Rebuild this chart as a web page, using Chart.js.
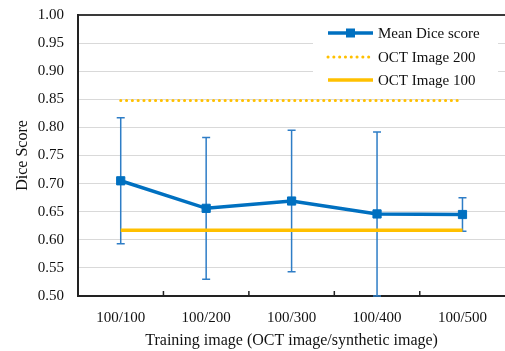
<!DOCTYPE html>
<html>
<head>
<meta charset="utf-8">
<script src="https://cdn.jsdelivr.net/npm/chart.js@4.4.1/dist/chart.umd.min.js"></script>
<style>
  html, body { margin: 0; padding: 0; background: #fff; overflow: hidden; }
  #wrap { width: 505px; height: 351px; overflow: hidden; }
</style>
</head>
<body>
<div id="wrap"><canvas id="chart" width="512" height="351"></canvas></div>
<script>
// Datos
const categories = ['100/100', '100/200', '100/300', '100/400', '100/500'];
const meanDice = [0.705, 0.656, 0.669, 0.646, 0.645];
const diceSd = [0.112, 0.126, 0.126, 0.146, 0.030];
const oct200 = [0.848, 0.848, 0.848, 0.848, 0.848];
const oct100 = [0.617, 0.617, 0.617, 0.617, 0.617];

const FONT = "'Liberation Serif', 'Times New Roman', serif";
const BLUE = '#0070C0';
const ERR_BLUE = '#2E7DC6';
const YELLOW = '#FFC000';

// Barras de error (media ± desviación)
const errorBars = {
    id: 'errorBars',
    beforeDatasetsDraw(chart) {
        const { ctx, scales: { x, y } } = chart;
        ctx.save();
        ctx.strokeStyle = ERR_BLUE;
        ctx.lineWidth = 1.5;
        meanDice.forEach((m, i) => {
            const px = x.getPixelForValue(i);
            const top = y.getPixelForValue(m + diceSd[i]);
            const bot = y.getPixelForValue(m - diceSd[i]);
            ctx.beginPath();
            ctx.moveTo(px, top); ctx.lineTo(px, bot);
            ctx.moveTo(px - 4, top); ctx.lineTo(px + 4, top);
            ctx.moveTo(px - 4, bot); ctx.lineTo(px + 4, bot);
            ctx.stroke();
        });
        ctx.restore();
    },
    afterDatasetsDraw(chart) {
        // marcas del eje x hacia dentro
        const { ctx, scales: { x, y } } = chart;
        ctx.save();
        ctx.strokeStyle = '#222';
        ctx.lineWidth = 1.5;
        for (let i = 1; i < categories.length; i++) {
            const bx = (x.getPixelForValue(i - 1) + x.getPixelForValue(i)) / 2;
            ctx.beginPath();
            ctx.moveTo(bx, y.bottom);
            ctx.lineTo(bx, y.bottom - 5);
            ctx.stroke();
        }
        ctx.restore();
    }
};

// Leyenda dentro del área del gráfico
const innerLegend = {
    id: 'innerLegend',
    afterDraw(chart) {
        const ctx = chart.ctx;
        const ds = chart.data.datasets;
        ctx.save();
        ctx.fillStyle = '#fff';
        ctx.fillRect(313, 18, 185, 77);
        ctx.font = '15px ' + FONT;
        ctx.textBaseline = 'middle';
        ctx.textAlign = 'left';
        const rows = [33, 57, 80];
        ds.forEach((d, i) => {
            const yy = rows[i];
            ctx.strokeStyle = d.borderColor;
            ctx.lineWidth = d.borderWidth;
            ctx.lineCap = d.borderCapStyle || 'butt';
            ctx.setLineDash(d.borderDash || []);
            ctx.beginPath();
            ctx.moveTo(328, yy);
            ctx.lineTo(373, yy);
            ctx.stroke();
            ctx.setLineDash([]);
            if (d.pointRadius) {
                ctx.fillStyle = d.backgroundColor;
                ctx.fillRect(346, yy - 4.5, 9, 9);
            }
            ctx.fillStyle = '#111';
            ctx.fillText(d.label, 378, yy + 1);
        });
        ctx.restore();
    }
};

new Chart(document.getElementById('chart'), {
    type: 'line',
    data: {
        labels: categories,
        datasets: [
            {
                label: 'Mean Dice score',
                data: meanDice,
                borderColor: BLUE,
                backgroundColor: BLUE,
                borderWidth: 3.5,
                pointStyle: 'rect',
                pointRadius: 5.8,
                pointBorderWidth: 1,
                tension: 0
            },
            {
                label: 'OCT Image 200',
                data: oct200,
                borderColor: YELLOW,
                backgroundColor: YELLOW,
                borderWidth: 3,
                borderDash: [0.1, 5.7],
                borderCapStyle: 'round',
                pointRadius: 0
            },
            {
                label: 'OCT Image 100',
                data: oct100,
                borderColor: YELLOW,
                backgroundColor: YELLOW,
                borderWidth: 3.5,
                pointRadius: 0
            }
        ]
    },
    options: {
        responsive: false,
        devicePixelRatio: 1,
        animation: false,
        layout: { padding: { top: 15, right: 5, left: 0, bottom: 0 } },
        plugins: {
            legend: { display: false },
            tooltip: { enabled: false }
        },
        scales: {
            x: {
                offset: true,
                grid: { display: false },
                border: { display: true, color: '#222', width: 2 },
                ticks: { color: '#111', font: { family: FONT, size: 15 }, padding: 5, maxRotation: 0 },
                title: {
                    display: true,
                    text: 'Training image (OCT image/synthetic image)',
                    color: '#111',
                    font: { family: FONT, size: 16 },
                    padding: { top: 0, bottom: 1 }
                },
                afterFit(scale) { scale.height = 55; }
            },
            y: {
                min: 0.5,
                max: 1.0,
                grid: {
                    drawTicks: false,
                    color: c => (c.tick && c.tick.value >= 0.999 ? '#3a3a3a' : '#d9d9d9'),
                    lineWidth: c => (c.tick && c.tick.value >= 0.999 ? 2 : 1)
                },
                border: { display: true, color: '#222', width: 2 },
                ticks: {
                    stepSize: 0.05,
                    color: '#111',
                    font: { family: FONT, size: 15 },
                    padding: 14,
                    callback: v => Number(v).toFixed(2)
                },
                title: {
                    display: true,
                    text: 'Dice Score',
                    color: '#111',
                    font: { family: FONT, size: 16 },
                    padding: { top: 13, bottom: 0 }
                },
                afterFit(scale) {
                    scale.width = 78;
                    scale.paddingTop = 0;
                    scale.paddingBottom = 0;
                }
            }
        }
    },
    plugins: [errorBars, innerLegend]
});
</script>
</body>
</html>
